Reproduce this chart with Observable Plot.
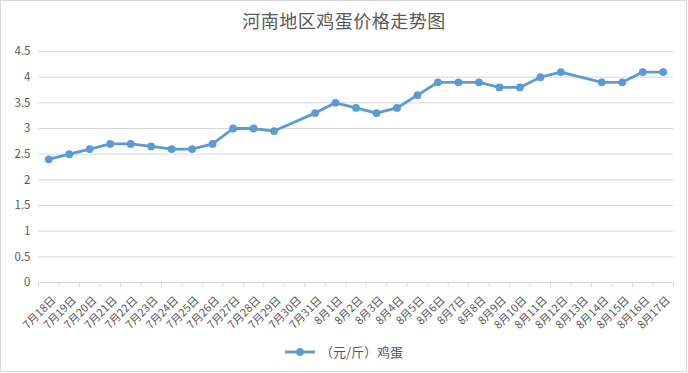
<!DOCTYPE html>
<html>
<head>
<meta charset="utf-8">
<script src="https://cdn.jsdelivr.net/npm/d3@7"></script>
<script src="https://cdn.jsdelivr.net/npm/@observablehq/plot@0.6"></script>
<style>
  html, body { margin: 0; padding: 0; background: #fff; }
  #wrap { position: relative; width: 688px; height: 373px; font-family: "Noto Sans CJK SC", "Noto Sans", sans-serif; color: #595959; overflow: hidden; }
  #frame { position: absolute; left: 0; top: 0; width: 687px; height: 372px; box-sizing: border-box; border: 1px solid #d9d9d9; }
  #title { position: absolute; left: 0; top: 7px; width: 688px; text-align: center; font-size: 18px; line-height: 26px; color: #595959; letter-spacing: 0.5px; }
  #plot { position: absolute; left: 0; top: 40px; }
  #legend { position: absolute; left: 0; top: 342px; width: 688px; display: flex; justify-content: center; align-items: center; font-size: 13px; color: #595959; }
  #legend svg { margin-right: 5px; }
</style>
</head>
<body>
<div id="wrap">
  <div id="frame"></div>
  <div id="title"></div>
  <div id="plot"></div>
  <div id="legend"></div>
</div>
<script>
const chartTitle = "河南地区鸡蛋价格走势图";
const seriesName = "（元/斤）鸡蛋";
const dates = ["7月18日","7月19日","7月20日","7月21日","7月22日","7月23日","7月24日","7月25日","7月26日","7月27日","7月28日","7月29日","7月30日","7月31日",
  "8月1日","8月2日","8月3日","8月4日","8月5日","8月6日","8月7日","8月8日","8月9日","8月10日","8月11日","8月12日","8月13日","8月14日","8月15日","8月16日","8月17日"];
const prices = [2.4,2.5,2.6,2.7,2.7,2.65,2.6,2.6,2.7,3.0,3.0,2.95,null,3.3,
  3.5,3.4,3.3,3.4,3.65,3.9,3.9,3.9,3.8,3.8,4.0,4.1,null,3.9,3.9,4.1,4.1];
const yTicks = [0,0.5,1,1.5,2,2.5,3,3.5,4,4.5];

const color = "#5b9bd5";
const data = dates.map((d, i) => ({date: d, price: prices[i]})).filter(d => d.price != null);

const W = 688, H = 300, mL = 38, mR = 15, mT = 11, mB = 58;
const step = (W - mL - mR) / dates.length;

const chart = Plot.plot({
  width: W, height: H,
  marginLeft: mL, marginRight: mR, marginTop: mT, marginBottom: mB,
  style: {fontFamily: '"Noto Sans CJK SC", "Noto Sans", sans-serif', color: "#595959", background: "transparent"},
  x: {type: "band", domain: dates, padding: 0, round: false, label: null},
  y: {domain: [0, 4.5], label: null},
  marks: [
    Plot.gridY(yTicks, {stroke: "#d9d9d9", strokeOpacity: 1}),
    Plot.ruleY([0], {stroke: "#d9d9d9"}),
    Plot.axisY(yTicks, {tickSize: 0, tickPadding: 8, fontSize: 11.5, label: null, tickFormat: d => String(d)}),
    Plot.axisX({tickSize: 5, text: null, dx: -step / 2, stroke: "#d9d9d9", label: null}),
    Plot.axisX([dates[dates.length - 1]], {tickSize: 5, text: null, dx: step / 2, stroke: "#d9d9d9", label: null}),
    Plot.axisX({tickSize: 0, tickPadding: 16, tickRotate: -45, fontSize: 11, label: null, dx: 5}),
    Plot.line(data, {x: "date", y: "price", stroke: color, strokeWidth: 2.8}),
    Plot.dot(data, {x: "date", y: "price", fill: color, r: 3.9})
  ]
});
document.getElementById("plot").appendChild(chart);
document.getElementById("title").textContent = chartTitle;

const lg = document.getElementById("legend");
lg.innerHTML = `<svg width="30" height="10"><line x1="0" y1="5" x2="30" y2="5" stroke="${color}" stroke-width="2.8"/><circle cx="15" cy="5" r="3.9" fill="${color}"/></svg><span></span>`;
lg.querySelector("span").textContent = seriesName;
</script>
</body>
</html>
